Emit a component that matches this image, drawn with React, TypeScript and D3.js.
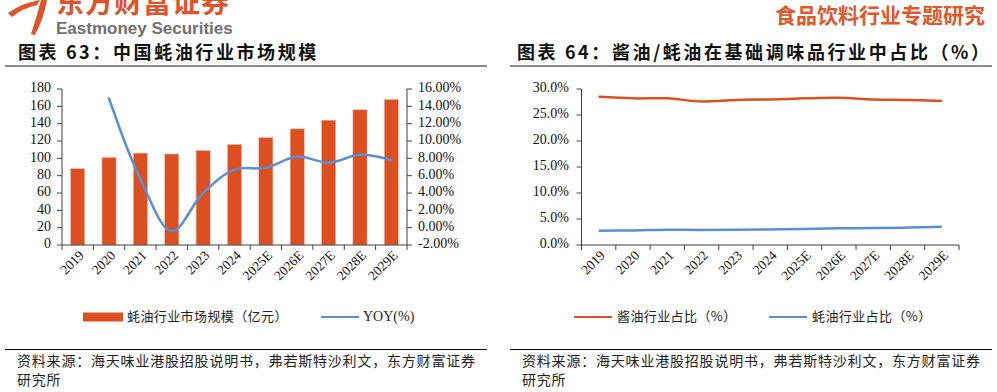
import React from "react";
import * as d3 from "d3";

const years = ["2019", "2020", "2021", "2022", "2023", "2024", "2025E", "2026E", "2027E", "2028E", "2029E"];
// 蚝油行业市场规模（亿元）
const marketSize = [88, 101, 106, 105, 109, 116, 124, 134, 144, 156, 168];
// YOY (%)
const yoy: (number | null)[] = [null, 14.9, 5.6, -0.4, 4.0, 6.7, 6.9, 8.2, 7.5, 8.4, 7.8];
// 酱油 / 蚝油 行业占比 (%)
const soyShare = [28.5, 28.2, 28.2, 27.6, 27.9, 28.0, 28.2, 28.3, 28.0, 27.9, 27.7];
const oysterShare = [2.75, 2.8, 2.95, 2.9, 2.95, 3.0, 3.1, 3.2, 3.25, 3.35, 3.5];

const sizeTicks = [0, 20, 40, 60, 80, 100, 120, 140, 160, 180];
const yoyTicks = [-2, 0, 2, 4, 6, 8, 10, 12, 14, 16];
const shareTicks = [0, 5, 10, 15, 20, 25, 30];

const ORANGE = "#dc4f20";
const BLUE = "#5a8fd8";
const AXIS = "#404040";
const CJK = "'Noto Sans CJK SC', sans-serif";
const SERIF = "'Liberation Serif', 'Times New Roman', serif";

function XLabels({ x, y0 }: { x: d3.ScaleBand<string>; y0: number }) {
  return (
    <g>
      {years.map((yr) => {
        const cx = (x(yr) || 0) + x.bandwidth() / 2 + 5;
        const cy = y0 + 9;
        return (
          <text
            key={yr}
            x={cx}
            y={cy}
            transform={`rotate(-45, ${cx}, ${cy})`}
            textAnchor="end"
            dominantBaseline="middle"
            fontFamily={SERIF}
            fontSize={13.5}
            fill="#111"
          >
            {yr}
          </text>
        );
      })}
    </g>
  );
}

function BottomAxis({ x, y0 }: { x: d3.ScaleBand<string>; y0: number }) {
  const [a, b] = x.range();
  const edges = [...years.map((yr) => x(yr) || 0), b];
  return (
    <g stroke={AXIS} strokeWidth={1}>
      <line x1={a} x2={b} y1={y0} y2={y0} />
      {edges.map((e, i) => (
        <line key={i} x1={e} x2={e} y1={y0} y2={y0 + 5} />
      ))}
    </g>
  );
}

function LeftChart() {
  const x = d3.scaleBand<string>().domain(years).range([62, 407]);
  const y = d3.scaleLinear().domain([0, 180]).range([245, 89]);
  const yr = d3.scaleLinear().domain([-2, 16]).range([245, 89]);
  const bw = x.bandwidth();
  const line = d3
    .line<number | null>()
    .defined((d) => d != null)
    .x((_, i) => (x(years[i]) || 0) + bw / 2)
    .y((d) => yr(d as number))
    .curve(d3.curveCatmullRom.alpha(0.5));

  return (
    <g>
      {marketSize.map((v, i) => (
        <rect
          key={years[i]}
          x={(x(years[i]) || 0) + bw * 0.275}
          width={bw * 0.45}
          y={y(v)}
          height={y(0) - y(v)}
          fill={ORANGE}
          stroke="#f2b9a6"
          strokeWidth={0.6}
        />
      ))}
      <path d={line(yoy) || ""} fill="none" stroke={BLUE} strokeWidth={2.5} strokeLinecap="round" />

      {/* left axis */}
      <g stroke={AXIS} strokeWidth={1}>
        <line x1={62} x2={62} y1={89} y2={245} />
        {sizeTicks.map((t) => (
          <line key={t} x1={57} x2={62} y1={y(t)} y2={y(t)} />
        ))}
        <line x1={407} x2={407} y1={89} y2={245} />
        {yoyTicks.map((t) => (
          <line key={t} x1={407} x2={412} y1={yr(t)} y2={yr(t)} />
        ))}
      </g>
      {sizeTicks.map((t) => (
        <text key={t} x={51} y={y(t)} textAnchor="end" dominantBaseline="middle" fontFamily={SERIF} fontSize={14} fill="#111">
          {t}
        </text>
      ))}
      {yoyTicks.map((t) => (
        <text key={t} x={418} y={yr(t)} textAnchor="start" dominantBaseline="middle" fontFamily={SERIF} fontSize={14} fill="#111">
          {t.toFixed(2)}%
        </text>
      ))}
      <BottomAxis x={x} y0={245} />
      <XLabels x={x} y0={245} />

      {/* legend */}
      <rect x={83} y={312.5} width={40} height={9} fill={ORANGE} />
      <text x={127} y={317} dominantBaseline="middle" fontFamily={CJK} fontSize={13} letterSpacing={0.4} fill="#222">
        蚝油行业市场规模（亿元）
      </text>
      <line x1={321} x2={359} y1={317} y2={317} stroke={BLUE} strokeWidth={2} />
      <text x={363} y={318} dominantBaseline="middle" fontFamily={SERIF} fontSize={14} fill="#222">
        YOY(%)
      </text>
    </g>
  );
}

function RightChart() {
  const x = d3.scaleBand<string>().domain(years).range([581.5, 959]);
  const y = d3.scaleLinear().domain([0, 30]).range([245, 89]);
  const bw = x.bandwidth();
  const mk = () =>
    d3
      .line<number>()
      .x((_, i) => (x(years[i]) || 0) + bw / 2)
      .y((d) => y(d))
      .curve(d3.curveCatmullRom.alpha(0.5));

  return (
    <g>
      <path d={mk()(soyShare) || ""} fill="none" stroke={ORANGE} strokeWidth={2.5} />
      <path d={mk()(oysterShare) || ""} fill="none" stroke={BLUE} strokeWidth={2.5} />
      <g stroke={AXIS} strokeWidth={1}>
        <line x1={581.5} x2={581.5} y1={89} y2={245} />
        {shareTicks.map((t) => (
          <line key={t} x1={576.5} x2={581.5} y1={y(t)} y2={y(t)} />
        ))}
      </g>
      {shareTicks.map((t) => (
        <text key={t} x={569} y={y(t)} textAnchor="end" dominantBaseline="middle" fontFamily={SERIF} fontSize={14} fill="#111">
          {t.toFixed(1)}%
        </text>
      ))}
      <BottomAxis x={x} y0={245} />
      <XLabels x={x} y0={245} />

      {/* legend */}
      <line x1={574} x2={612} y1={317} y2={317} stroke={ORANGE} strokeWidth={2} />
      <text x={617} y={317} dominantBaseline="middle" fontFamily={CJK} fontSize={13} letterSpacing={0.4} fill="#222">
        酱油行业占比（%）
      </text>
      <line x1={769} x2={807} y1={317} y2={317} stroke={BLUE} strokeWidth={2} />
      <text x={812} y={317} dominantBaseline="middle" fontFamily={CJK} fontSize={13} letterSpacing={0.4} fill="#222">
        蚝油行业占比（%）
      </text>
    </g>
  );
}

function Header() {
  return (
    <g>
      {/* logo swoosh */}
      <path d="M8 13 Q22 3 40 0 L37 5 Q23 8 12 17 Z" fill="#e0522a" />
      <path d="M31 34 Q37 16 41 0 L47 0 Q44 18 35 35 Z" fill="#e0522a" />
      <text x={56} y={13} fontFamily={CJK} fontSize={28} fontWeight={700} fill="#e0522a" letterSpacing={1}>
        东方财富证券
      </text>
      <text x={56} y={33.5} fontFamily="'Liberation Sans', Arial, sans-serif" fontSize={17} fontWeight={700} fill="#707070">
        Eastmoney Securities
      </text>
      <text x={985} y={23} textAnchor="end" fontFamily={CJK} fontSize={21} fontWeight={700} fill="#e0582b">
        食品饮料行业专题研究
      </text>

      <text x={18} y={59} fontFamily={CJK} fontSize={18} fontWeight={700} fill="#111" letterSpacing={2.6}>
        图表 63：中国蚝油行业市场规模
      </text>
      <line x1={5} x2={487} y1={66} y2={66} stroke="#8c8c8c" strokeWidth={2} />
      <text x={517} y={59} fontFamily={CJK} fontSize={18} fontWeight={700} fill="#111" letterSpacing={2.6}>
        图表 64：酱油/蚝油在基础调味品行业中占比（%）
      </text>
      <line x1={510} x2={992} y1={66} y2={66} stroke="#8c8c8c" strokeWidth={2} />
    </g>
  );
}

function Footer() {
  const src = "资料来源：海天味业港股招股说明书，弗若斯特沙利文，东方财富证券";
  return (
    <g fontFamily={CJK} fontSize={14} fill="#222">
      <line x1={5} x2={487} y1={349.5} y2={349.5} stroke="#000" strokeWidth={1} />
      <line x1={510} x2={992} y1={349.5} y2={349.5} stroke="#000" strokeWidth={1} />
      <text x={17} y={362} dominantBaseline="middle" letterSpacing={0.8}>{src}</text>
      <text x={17} y={381} dominantBaseline="middle" letterSpacing={0.8}>研究所</text>
      <text x={522} y={362} dominantBaseline="middle" letterSpacing={0.8}>{src}</text>
      <text x={522} y={381} dominantBaseline="middle" letterSpacing={0.8}>研究所</text>
    </g>
  );
}

export default function App() {
  return (
    <svg
      width={997}
      height={392}
      style={{ position: "absolute", left: 0, top: 0, background: "#fff" }}
    >
      <Header />
      <LeftChart />
      <RightChart />
      <Footer />
    </svg>
  );
}
